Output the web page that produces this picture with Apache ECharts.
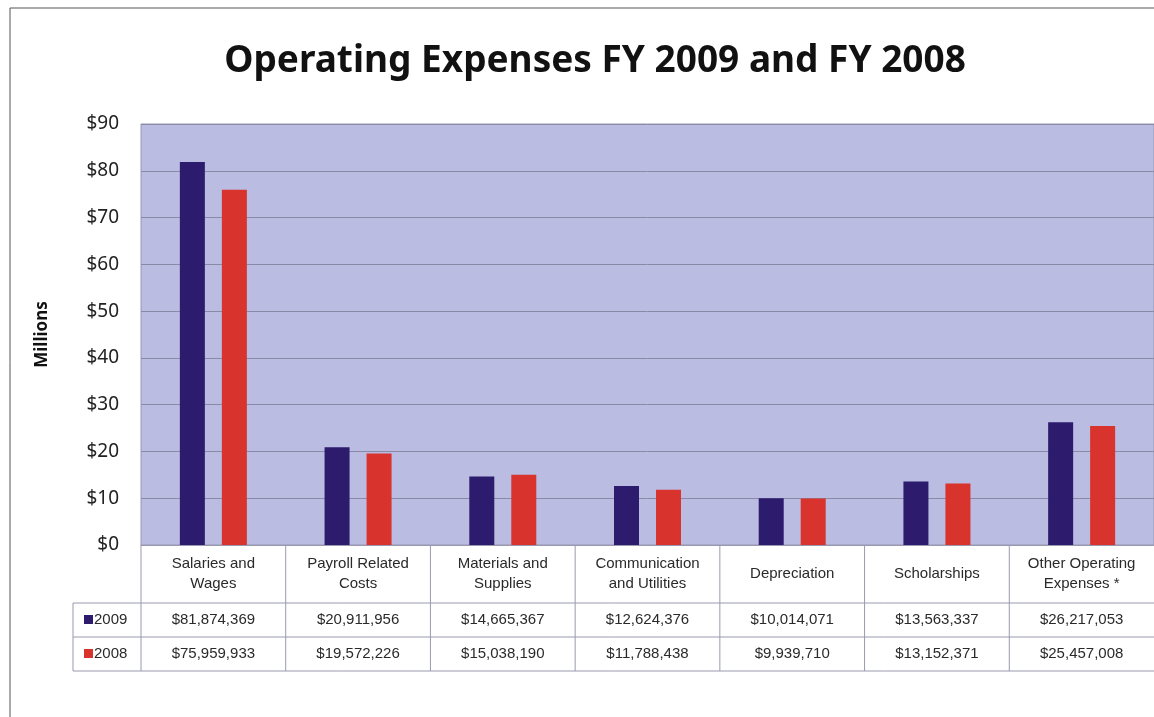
<!DOCTYPE html>
<html>
<head>
<meta charset="utf-8">
<style>
  html, body { margin: 0; padding: 0; background: #fff; }
  #chart { width: 1154px; height: 717px; }
</style>
<script src="https://cdn.jsdelivr.net/npm/echarts@6/dist/echarts.min.js"></script>
</head>
<body>
<div id="chart"></div>
<script>
// category labels (two lines where the original wraps)
const categories = [
  "Salaries and\nWages",
  "Payroll Related\nCosts",
  "Materials and\nSupplies",
  "Communication\nand Utilities",
  "Depreciation",
  "Scholarships",
  "Other Operating\nExpenses *"
];
// dollars, as printed in the data table
const fy2009 = [81874369, 20911956, 14665367, 12624376, 10014071, 13563337, 26217053];
const fy2008 = [75959933, 19572226, 15038190, 11788438, 9939710, 13152371, 25457008];
const seriesNames = ["2009", "2008"];
const colors = ["#2d1b6e", "#d8332c"];

const fmt = (v) => "$" + v.toLocaleString("en-US");

const GRID = { left: 141, right: 0, top: 124, bottom: 172 };
const ROW_HEAD = 58, ROW = 34, LEGEND_LEFT = 73;
const LINE = "#9a9aae";

const chart = echarts.init(document.getElementById("chart"));

chart.setOption({
  animation: false,
  title: {
    text: "Operating Expenses FY 2009 and FY 2008",
    left: 590, top: 38, textAlign: "center",
    textStyle: { fontFamily: "Noto Sans", fontWeight: "bold", fontSize: 37, color: "#111" }
  },
  grid: { ...GRID, show: true, backgroundColor: "#bbbce2", borderColor: "#9696b4", borderWidth: 1 },
  xAxis: {
    type: "category",
    data: categories,
    axisLine: { lineStyle: { color: LINE } },
    axisTick: { show: false },
    axisLabel: { show: false }
  },
  yAxis: {
    type: "value",
    min: 0, max: 90, interval: 10,
    name: "Millions",
    nameLocation: "middle",
    nameRotate: 90,
    nameGap: 90,
    nameTextStyle: { fontFamily: "Noto Sans", fontWeight: "bold", fontSize: 17, color: "#111" },
    axisLine: { show: false },
    axisTick: { show: false },
    axisLabel: {
      margin: 22,
      fontFamily: "Noto Sans", fontSize: 19, color: "#222",
      formatter: (v) => "$" + v
    },
    splitLine: { lineStyle: { color: "#8a8aa6", width: 1 } }
  },
  series: [
    {
      name: seriesNames[0], type: "bar",
      data: fy2009.map((v) => v / 1e6),
      itemStyle: { color: colors[0] },
      barWidth: 25, barGap: "68%"
    },
    {
      name: seriesNames[1], type: "bar",
      data: fy2008.map((v) => v / 1e6),
      itemStyle: { color: colors[1] },
      barWidth: 25
    }
  ]
});

// data table under the plot, aligned with the category bands
function drawTable() {
  const W = chart.getWidth(), H = chart.getHeight();
  const y0 = H - GRID.bottom;
  const yR1 = y0 + ROW_HEAD, yR2 = yR1 + ROW, yEnd = yR2 + ROW;
  const c0 = chart.convertToPixel({ xAxisIndex: 0 }, 0);
  const c1 = chart.convertToPixel({ xAxisIndex: 0 }, 1);
  const band = c1 - c0;
  const els = [];
  const line = (x1, y1, x2, y2, stroke) => els.push({
    type: "line", shape: { x1, y1, x2, y2 }, style: { stroke: stroke || LINE, lineWidth: 1 }, silent: true
  });
  const text = (x, y, t, extra) => els.push({
    type: "text", x, y, silent: true,
    style: Object.assign({
      text: t, fill: "#2a2a2a", font: "15px 'Liberation Sans', Arial, sans-serif",
      align: "center", verticalAlign: "middle", lineHeight: 20
    }, extra || {})
  });

  // horizontal rules
  line(LEGEND_LEFT, yR1, W, yR1);
  line(LEGEND_LEFT, yR2, W, yR2);
  line(LEGEND_LEFT, yEnd, W, yEnd);
  // vertical rules
  line(LEGEND_LEFT, yR1, LEGEND_LEFT, yEnd);
  line(GRID.left, y0, GRID.left, yEnd);
  categories.forEach((c, i) => {
    const cx = chart.convertToPixel({ xAxisIndex: 0 }, i);
    const right = cx + band / 2;
    if (i < categories.length - 1) line(right, y0, right, yEnd);
    text(cx, y0 + ROW_HEAD / 2, c);
    text(cx, yR1 + ROW / 2, fmt(fy2009[i]));
    text(cx, yR2 + ROW / 2, fmt(fy2008[i]));
  });
  // legend keys
  [yR1, yR2].forEach((y, k) => {
    els.push({ type: "rect", shape: { x: 84, y: y + ROW / 2 - 5, width: 9, height: 9 },
      style: { fill: colors[k] }, silent: true });
    text(94, y + ROW / 2, seriesNames[k], { align: "left" });
  });
  // page frame
  line(10, 8, W, 8, "#555");
  line(10, 8, 10, H, "#555");

  chart.setOption({ graphic: { elements: els } });
}
drawTable();
</script>
</body>
</html>
